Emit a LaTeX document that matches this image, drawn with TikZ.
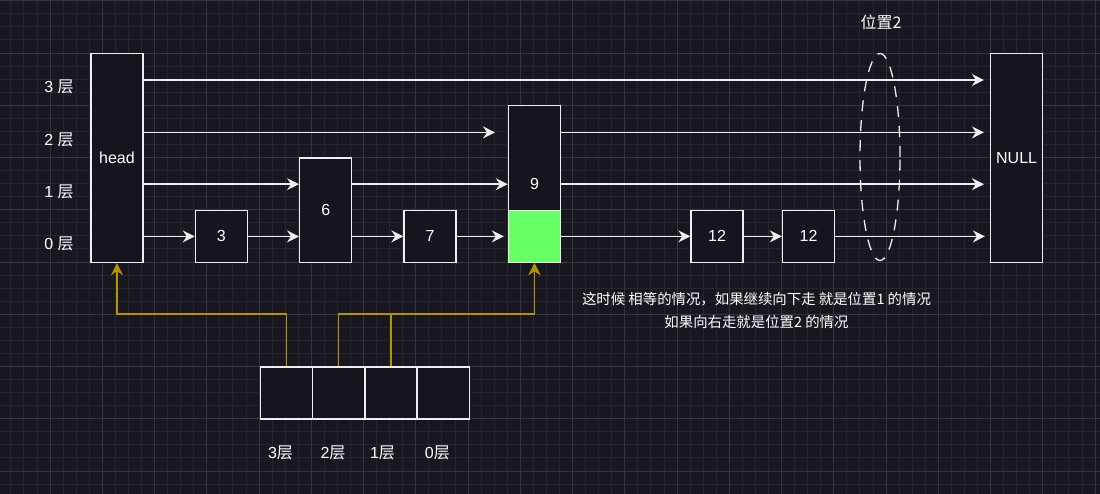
\documentclass[tikz,border=0pt]{standalone}
\usepackage{fontspec}
\setmainfont{Liberation Sans}
\newfontfamily\cjk{Noto Sans CJK SC}
\usetikzlibrary{arrows.meta, shapes.geometric}
\definecolor{bgdark}{RGB}{24,23,31}
\definecolor{boxfill}{RGB}{24,20,29}
\definecolor{gridminor}{RGB}{38,37,46}
\definecolor{gridmajor}{RGB}{54,53,62}
\definecolor{lineclr}{RGB}{238,238,238}
\definecolor{hitgreen}{RGB}{102,255,102}
\definecolor{ptrgold}{RGB}{176,149,0}

\tikzset{
  cell/.style={draw=lineclr, fill=boxfill, line width=1.4pt, inner sep=0pt,
    minimum width=52pt, minimum height=52pt, text=white,
    font=\fontsize{16}{19}\selectfont},
  lvl/.style={text=white, font=\fontsize{16}{19}\selectfont},
  link/.style={draw=lineclr, line width=1.4pt,
    -{Stealth[length=12pt, width=12pt, inset=4pt]}},
  ptr/.style={draw=ptrgold, line width=1.4pt,
    -{Stealth[length=12pt, width=12pt, inset=4pt]}},
}

\begin{document}
\begin{tikzpicture}[x=1pt, y=-1pt]

\useasboundingbox (0,0) rectangle (1100,494);
\fill[bgdark] (0,0) rectangle (1100,494);

%grid:
\foreach \k in {0,...,83}
  \draw[gridminor, line width=0.8pt] ({10.8125+13.0625*\k},0) -- ++(0,494);
\foreach \k in {0,...,37}
  \draw[gridminor, line width=0.8pt] (0,{0.7+13.0625*\k}) -- ++(1100,0);
\foreach \k in {0,...,20}
  \draw[gridmajor, line width=0.8pt] ({50+52.25*\k},0) -- ++(0,494);
\foreach \k in {0,...,9}
  \draw[gridmajor, line width=0.8pt] (0,{0.7+52.25*\k}) -- ++(1100,0);

%rows
\coordinate (r3) at (0,80);
\coordinate (r2) at (0,132.4);
\coordinate (r1) at (0,184.2);
\coordinate (r0) at (0,236.4);

\node[lvl] (l3) at (59,87) {3 {\cjk 层}};
\node[lvl] (l2) at (59,139.5) {2 {\cjk 层}};
\node[lvl] (l1) at (59,191.5) {1 {\cjk 层}};
\node[lvl] (l0) at (59,243.5) {0 {\cjk 层}};

%list nodes
\node[cell, minimum height=209pt] (head) at (117,158) {head};
\node[cell] (n3) at (221.4,236.4) {3};
\node[cell, minimum height=104.5pt] (n6) at (325.7,210.4) {6};
\node[cell] (n7) at (430,236.4) {7};
\node[cell, minimum height=157pt] (n9) at (534.5,184.2) {9};
\node[cell, fill=hitgreen] (n9g) at (534.5,236.4) {};
\node[cell] (n12a) at (717,236.4) {12};
\node[cell] (n12b) at (808.5,236.4) {12};
\node[cell, minimum height=209pt] (null) at (1016.6,158) {NULL};

%level 3
\draw[link, shorten >=6pt] (head.east |- r3) -- (null.west |- r3);
%level 2
\coordinate (e2) at (495,132.4);
\draw[link] (head.east |- r2) -- (e2);
\draw[link, shorten >=6pt] (n9.east |- r2) -- (null.west |- r2);
%level 1
\draw[link] (head.east |- r1) -- (n6.west |- r1);
\draw[link] (n6.east |- r1) -- (n9.west |- r1);
\draw[link, shorten >=6pt] (n9.east |- r1) -- (null.west |- r1);
%level 0
\draw[link] (head.east |- r0) -- (n3.west);
\draw[link] (n3.east) -- (n6.west |- r0);
\draw[link] (n6.east |- r0) -- (n7.west);
\draw[link, shorten >=4pt] (n7.east) -- (n9g.west);
\draw[link] (n9g.east) -- (n12a.west);
\draw[link] (n12a.east) -- (n12b.west);
\draw[link, shorten >=5pt] (n12b.east) -- (null.west |- r0);

%position 2
\node[ellipse, draw=lineclr, line width=1.3pt, dash pattern=on 11pt off 9pt,
  minimum width=40pt, minimum height=207pt, inner sep=0pt] (ring) at (880,157) {};
\node[lvl] (ringlbl) at (881,22) {\cjk 位置2};

%note
\node[text=white, align=center, font=\fontsize{14.4}{22.4}\selectfont\cjk] (note) at (756.5,310.5)
  {这时候 相等的情况，如果继续向下走 就是位置1 的情况\\如果向右走就是位置2 的情况};

%update array
\node[cell, minimum width=52.25pt, minimum height=52.25pt] (c3) at (286.5,393) {};
\node[cell, minimum width=52.25pt, minimum height=52.25pt] (c2) at (338.75,393) {};
\node[cell, minimum width=52.25pt, minimum height=52.25pt] (c1) at (391,393) {};
\node[cell, minimum width=52.25pt, minimum height=52.25pt] (c0) at (443.25,393) {};

\node[lvl] (t3) at (280.5,452.5) {3{\cjk 层}};
\node[lvl] (t2) at (333,452.5) {2{\cjk 层}};
\node[lvl] (t1) at (382.5,452.5) {1{\cjk 层}};
\node[lvl] (t0) at (437.3,452.5) {0{\cjk 层}};

\draw[ptr] (c3.north) -- ++(0,-52) -| (head.south);
\draw[ptr] (c2.north) -- ++(0,-52) -| (n9g.south);
\draw[ptr] (c1.north) -- ++(0,-52) -| (n9g.south);

\end{tikzpicture}
\end{document}
